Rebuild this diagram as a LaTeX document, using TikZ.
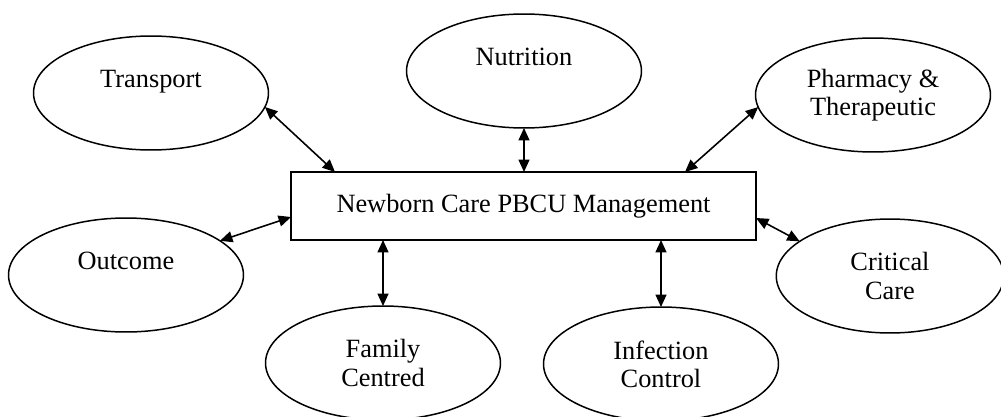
\documentclass[tikz,border=0pt]{standalone}
\usepackage{fontspec}
\setmainfont{Liberation Serif}
\usetikzlibrary{arrows.meta, shapes.geometric}
\tikzset{
    % node styles
    unit/.style = {ellipse, draw, line width=0.85pt, minimum width=4.7cm, minimum height=2.28cm,
        inner sep=0pt, outer sep=0pt, align=center, font=\fontsize{15}{16}\selectfont},
    core/.style = {rectangle, draw, line width=0.85pt, minimum width=9.3cm, minimum height=1.36cm,
        outer sep=0pt, font=\fontsize{15}{16}\selectfont},
    % arrow style
    link/.style = {{Triangle[length=2.5mm, width=2.2mm]}-{Triangle[length=2.5mm, width=2.2mm]}, line width=0.9pt}
}

\begin{document}
\begin{tikzpicture}[x=0.02cm, y=-0.02cm]
        \useasboundingbox (0,0) rectangle (1001,416);

        % centre box
        \node[core] (mgmt) at (523.5,206) {Newborn Care PBCU Management};

        % units round it
        \node[unit] (transport) at (151,93) {Transport\\[-5pt]\strut};
        \node[unit] (nutrition) at (524,71) {Nutrition\\[-5pt]\strut};
        \node[unit] (pharmacy) at (873,95) {Pharmacy \&\\Therapeutic};
        \node[unit] (outcome) at (126,275) {Outcome\\[-5pt]\strut};
        \node[unit, minimum width=4.55cm] (critical) at (890,276) {Critical\\Care};
        \node[unit] (family) at (383,363) {Family\\Centred};
        \node[unit] (infection) at (661,364) {Infection\\Control};

        % links
        \draw[link] (transport.-7) -- ([xshift=0.88cm]mgmt.north west);
        \draw[link] (nutrition.south) -- (nutrition.south |- mgmt.north);
        \draw[link] (pharmacy.186) -- ([xshift=-1.42cm]mgmt.north east);
        \draw[link] (outcome.20) -- ([yshift=-0.22cm]mgmt.west);
        \draw[link] (family.north) -- (family.north |- mgmt.south);
        \draw[link] (infection.north) -- (infection.north |- mgmt.south);
        \draw[link] (critical.159) -- ([yshift=-0.24cm]mgmt.east);
\end{tikzpicture}
\end{document}
